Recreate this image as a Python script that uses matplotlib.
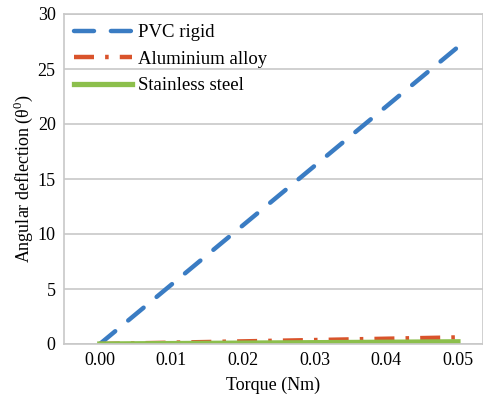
import numpy as np
import matplotlib
matplotlib.use("Agg")
import matplotlib.pyplot as plt

plt.rcParams['font.family'] = ['Liberation Serif', 'DejaVu Serif']
plt.rcParams['mathtext.fontset'] = 'custom'
plt.rcParams['mathtext.rm'] = 'Liberation Serif'

# Data
torque = [0.00, 0.01, 0.02, 0.03, 0.04, 0.05]
pvc = [0.0, 5.4, 10.8, 16.2, 21.6, 27.0]
aluminium = [0.0, 0.12, 0.24, 0.36, 0.48, 0.6]
steel = [0.0, 0.04, 0.08, 0.12, 0.16, 0.2]

fig = plt.figure(figsize=(4.83, 3.96), dpi=100)
ax = fig.add_axes([64 / 483, 1 - 344 / 396, 419 / 483, 330 / 396])

ax.plot(torque, pvc, color='#3a7cc3', linewidth=3.2, dashes=(4.5, 3.8),
        label='PVC rigid', dash_capstyle='round')
ax.plot(torque, aluminium, color='#d9532b', linewidth=3.2, dashes=(4.5, 2.5, 0.8, 2.5),
        label='Aluminium alloy')
ax.plot(torque, steel, color='#8cbf4c', linewidth=3.8, label='Stainless steel')

ax.set_xlim(-0.005, 0.0535)
ax.set_ylim(0, 30)
ax.set_xticks(torque)
ax.set_xticklabels(['0.00', '0.01', '0.02', '0.03', '0.04', '0.05'])
ax.set_yticks([0, 5, 10, 15, 20, 25, 30])
ax.tick_params(length=0, labelsize=13, pad=6)
ax.yaxis.grid(True, color='#c8c8c8', linewidth=1.2)
ax.set_axisbelow(True)
for s in ax.spines.values():
    s.set_color('#c8c8c8')
    s.set_linewidth(1.2)

ax.set_xlabel('Torque (Nm)', fontsize=13, labelpad=5)
ax.set_ylabel(r'Angular deflection (θ$^{\mathrm{0}}$)', fontsize=13, labelpad=2)

leg = ax.legend(loc='upper left', fontsize=13.5, frameon=False,
                handlelength=3.1, borderaxespad=0.25,
                handletextpad=0.3, labelspacing=0.5, borderpad=0.3)

fig.savefig('out.png', dpi=100)
